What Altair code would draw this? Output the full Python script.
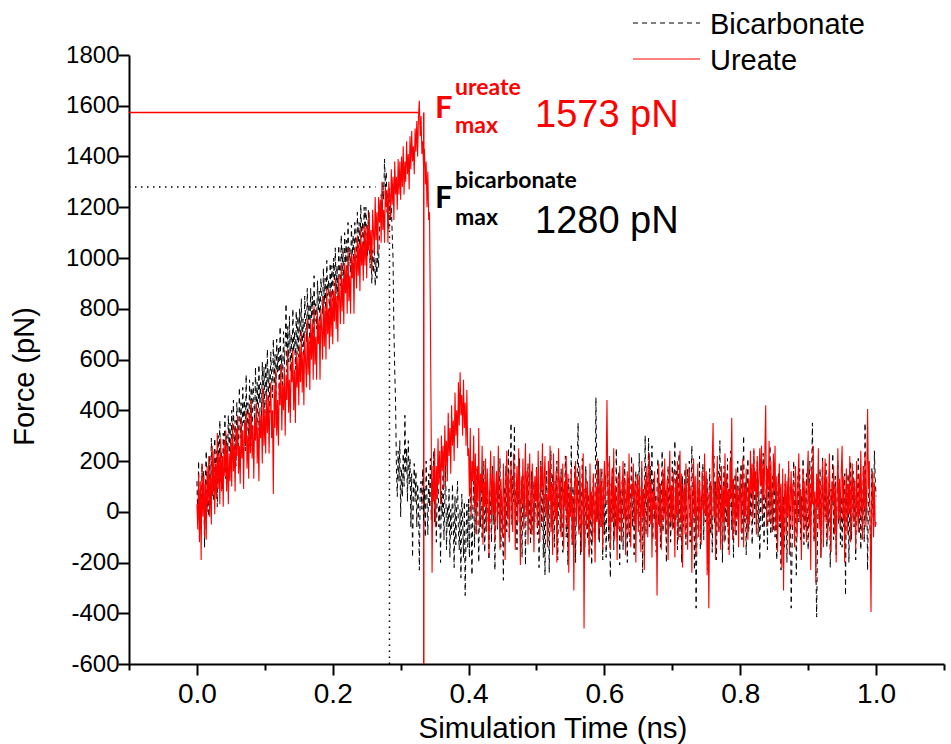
import altair as alt
import pandas as pd

# Sampling grid of the steered-MD force traces (ns)
STEP_NS = 0.00125

# Ureate: loading ramp 0.0-0.3 ns
ureate_ramp = [
    30, -70, 150, -120, 120, -190, 190, -20, 140, -100, 110, -110, 180, 30, 220, -20, 140, -50, 260, 70,
    240, -10, 190, 50, 310, 90, 230, 30, 290, 80, 220, 20, 280, 140, 320, 80, 260, 30, 230, 120,
    290, 100, 350, 160, 260, 80, 330, 220, 380, 150, 260, 110, 370, 210, 320, 90, 350, 270, 400, 170,
    300, 130, 390, 230, 440, 210, 340, 130, 370, 280, 430, 190, 330, 120, 410, 290, 380, 190, 490, 260,
    400, 230, 470, 310, 450, 230, 410, 510, 290, 400, 70, 500, 330, 560, 300, 440, 260, 510, 420, 580,
    320, 500, 400, 570, 300, 540, 440, 640, 390, 520, 350, 590, 510, 640, 400, 560, 350, 630, 490, 610,
    420, 650, 510, 710, 470, 630, 420, 700, 590, 490, 760, 540, 690, 480, 760, 600, 740, 520, 810, 580,
    690, 520, 790, 660, 760, 520, 800, 720, 600, 850, 650, 810, 600, 880, 700, 800, 640, 880, 690, 870,
    660, 870, 750, 920, 720, 850, 670, 930, 840, 740, 980, 790, 920, 740, 980, 860, 970, 780, 1040, 830,
    930, 780, 1020, 920, 1010, 780, 1040, 990, 880, 1090, 930, 1060, 870, 1120, 970, 1060, 910, 1130, 970, 1120,
    920, 1130, 1030, 1180, 1000, 1110, 950, 1190, 1100, 1020, 1240, 1070, 1180, 1020, 1240, 1140, 1230, 1060, 1300, 1110,
    1190, 1060, 1280, 1200, 1270, 1060, 1300, 1250, 1160, 1350, 1210, 1320, 1150, 1380, 1250, 1320, 1190, 1390, 1250, 1380,
]
# Ureate: peak, rupture and rebound 0.3-0.4 ns
ureate_rupture = [
    1230, 1400, 1280, 1440, 1250, 1380, 1300, 1460, 1330, 1410, 1270, 1480, 1350, 1500, 1380, 1440, 1330, 1510, 1420, 1540,
    1400, 1560, 1620, 1480, 1560, 1410, 1460, 1360, 1430, 1290, 1380, 1200, 1340, 1150, 1180, 760, 300, -240, 180, 40,
    250, -60, 180, 50, 290, 110, 240, 30, 300, 160, 260, 90, 340, 180, 280, 120, 390, 220, 330, 150,
    420, 260, 360, 200, 470, 300, 400, 250, 510, 340, 550, 380, 460, 300, 520, 330, 430, 260, 480, 220,
]
# Ureate: post-rupture fluctuations 0.4-1.0 ns
ureate_tail = [
    250, 60, 330, -20, 200, 120, 300, 10, 230, -90, 180, 40, 330, -60, 150, 80, 260, -130, 120, 20,
    210, -80, 170, 60, -170, 100, 240, -40, 150, -10, 220, -120, 90, 160, -60, 260, 30, -150, 130, 40,
    -100, 190, 60, -190, 110, 240, -30, 150, -120, 70, 200, 10, -80, 230, 120, -150, 60, 180, -40, 250,
    90, -210, 140, 30, 210, -70, 110, 270, -20, 160, -130, 80, 230, 0, -90, 190, 60, -160, 140, 40,
    170, -60, 240, 20, -120, 180, 90, 270, -40, 130, 220, -10, 70, -140, 200, 40, 260, -80, 110, -170,
    230, 50, -30, 160, -200, 90, 250, 10, 140, -100, 60, 190, -150, 120, 20, 220, -60, 150, -240, 80,
    -20, 170, -120, 60, -310, 110, 200, -50, 140, 20, -90, 180, 40, -160, 90, 230, -460, 50, 160, -70,
    120, 10, -180, 190, -30, 80, -120, 150, 30, -200, 100, -40, 210, -110, 60, 170, -60, 120, -150, 90,
    200, 30, 150, 440, 90, -60, 220, -150, 60, 170, -40, 250, -110, 100, 20, -190, 140, -70, 180, 40,
    -120, 90, 200, -30, 130, -170, 50, 160, -90, 230, 10, -140, 110, 60, 190, -50, 120, -200, 70, 150,
    -80, 140, 30, -160, 200, -20, 90, -230, 130, 50, 180, -100, 60, 230, -50, 120, -180, 80, 10, 160,
    -110, 40, -330, 70, 190, -60, 110, -150, 20, 170, -30, 210, -90, 60, 130, -190, 90, 240, -40, 100,
    -70, 160, 20, -180, 130, -10, 200, -110, 80, 240, -40, 150, -220, 60, 110, -90, 190, 30, -150, 100,
    170, -60, 90, -240, 50, 210, -20, 140, -170, 70, 190, -100, 120, 10, -130, 160, 60, -50, 230, -10,
    160, -250, 80, -380, 40, 120, -70, 190, 350, -20, 110, -190, 60, 220, -80, 140, 30, -150, 180, -40,
    100, -120, 230, 20, 150, -60, 90, -170, 200, 50, 370, -110, 130, 10, -80, 170, -30, 90, -140, 60,
    150, -80, 60, 210, -140, 100, -20, 170, 30, -110, 130, -50, 240, 70, 190, -30, 250, 80, 160, -90,
    220, 60, 130, 250, 100, 260, -10, 190, 50, 240, 420, -60, 170, 90, 280, -40, 200, 30, -80, 230,
    80, 260, -70, 140, -160, 60, 190, -40, 110, -220, 170, -310, 40, 150, -90, 120, -20, 200, -170, 70,
    160, -60, 110, 20, -140, 180, 50, -100, 130, 230, -30, 90, -190, 60, 170, -70, 120, 0, -120, 150,
    240, -60, 110, -230, 170, 30, 260, -100, 80, -280, 150, 20, 250, -70, 120, -180, 60, 200, -140, 90,
    210, -40, 140, -110, 60, 230, 0, -160, 120, 40, 180, -90, 100, -200, 70, 250, -30, 130, -60, 160,
    260, -30, 140, -200, 50, 170, -90, 110, -10, 220, -120, 80, 190, -40, 130, 60, -150, 200, 20, -80,
    150, -20, 240, 40, -110, 180, 10, 230, -60, 120, 405, 90, 200, -50, -395, 60, 160, -100, 110, -60,
    -40,
]

# Bicarbonate: loading ramp and rupture near 0.29 ns
bicarbonate_ramp = [
    120, -30, 200, -110, 90, -70, 190, 40, 160, -140, 140, 240, 0, 120, -20, 220, 80, 290, 60, 170,
    40, 290, 150, 240, 20, 300, 130, 360, 120, 240, 90, 310, 220, 380, 130, 300, 190, 380, 230, 350,
    180, 400, 260, 440, 220, 360, 180, 430, 340, 260, 490, 290, 430, 230, 490, 350, 440, 240, 540, 320,
    430, 280, 520, 370, 490, 260, 510, 450, 340, 570, 390, 510, 320, 580, 430, 510, 360, 590, 420, 570,
    390, 590, 470, 640, 430, 560, 390, 630, 530, 450, 680, 500, 620, 450, 680, 550, 650, 460, 730, 530,
    620, 500, 710, 580, 660, 820, 550, 730, 590, 770, 550, 700, 520, 800, 630, 710, 560, 790, 620, 770,
    610, 800, 670, 840, 650, 760, 610, 850, 750, 670, 880, 720, 820, 660, 880, 760, 850, 680, 930, 750,
    820, 720, 910, 790, 870, 710, 920, 860, 780, 960, 820, 920, 760, 990, 850, 910, 790, 980, 840, 970,
    830, 1000, 890, 1040, 860, 970, 830, 1050, 950, 890, 1090, 930, 1040, 880, 1100, 980, 1070, 890, 1140, 970,
    1040, 940, 1130, 1010, 1090, 930, 1140, 1070, 1000, 1180, 1040, 1140, 990, 1210, 1080, 1140, 1020, 1200, 1080, 1200,
    1130, 1010, 1190, 1050, 960, 1080, 900, 1030, 940, 1060, 890, 1000, 920, 1040, 960, 1110, 1180, 1250, 1160, 1300,
    1230, 1390, 1280, 1340, 1180, 1260, 1110, 1230, 1150, 1200, 1100, 1000, 720, 560, 430, 180, 60, 240, 120, 280,
]
# Bicarbonate: just after rupture 0.3-0.4 ns
bicarbonate_rupture = [
    -20, 170, 60, 230, 100, 380, 150, 250, 40, 280, 110, 210, -60, 150, -180, 70, 190, 40, 160, -60,
    110, 30, -230, 80, 120, 10, 170, -40, 90, -100, 200, 50, -90, 150, 20, 210, -30, 130, 60, 240,
    -40, 110, -120, 60, 140, -60, 30, -200, 80, -20, 150, -110, 40, 190, -150, 20, -60, 90, -180, 10,
    -90, 110, -40, -220, 60, -130, 30, 120, -70, -150, 10, -260, 70, -30, -180, 40, -330, -90, 30, -140,
]
# Bicarbonate: post-rupture fluctuations 0.4-1.0 ns
bicarbonate_tail = [
    50, -180, 100, -40, -250, 20, 120, -140, 70, -90, 170, -20, -200, 80, -60, 150, -110, 30, 200, -160,
    60, -80, 130, -30, -190, 90, 10, -120, 180, -50, 110, -230, 40, 150, -70, 80, -10, 210, -140, 60,
    -20, -270, 100, -60, 180, -80, 60, 250, -110, 130, 350, -50, 140, 40, 340, -30, 90, -150, 120, 30,
    210, -100, 60, -180, 150, -20, 80, -210, 110, 20, 190, -70, 50, -130, 160, 0, -90, 120, -40, 70,
    180, -90, 110, -220, 40, 200, -60, 130, -180, 70, -250, 20, 160, -110, 60, -240, 90, 240, -60, 150,
    10, -140, 120, -30, 200, -190, 50, 110, -80, 170, -20, -160, 90, 30, 220, -100, 60, -210, 130, 0,
    10, 260, -130, 100, -50, 180, -200, 50, 160, 350, -80, 120, -170, 30, 210, -60, 90, -140, 180, 40,
    -110, 70, -170, -140, 80, -210, 40, 150, -90, 20, 450, 120, -30, 200, -120, 60, -60, 170, -190, 90,
    -90, 150, -180, 60, 200, -120, 40, -260, 110, -40, 180, -150, 70, -60, 250, -100, 20, 160, -210, 90,
    -30, 130, -150, 50, 190, -80, 10, -200, 140, 30, -120, 80, 220, -60, 110, -170, 40, 160, -20, 90,
    -30, 230, -120, 50, 170, -240, 80, -20, 300, -90, 140, 20, 290, -60, 180, 40, 260, -110, 130, -30,
    70, -160, 100, 210, -50, 120, -140, 30, 240, -80, 150, -10, 90, -200, 60, 180, -70, 110, -120, 40,
    200, -70, 120, 280, -40, 160, -150, 90, 230, -100, 60, -200, 140, -60, 30, 170, -130, 80, 170, 50,
    200, -120, 90, 260, -30, 130, -230, 40, -380, -90, 100, -60, 220, -150, 70, 10, 190, -110, 140, -40,
    -30, 130, -230, 40, 170, -90, 100, -160, 30, 220, -50, 120, -190, 60, 160, -80, 280, -30, 110, -200,
    50, 180, -120, 70, -40, 210, -150, 90, 20, 240, -70, 130, -180, 40, 150, -100, 60, 200, -20, 100,
    40, 190, -110, 80, 300, -40, 120, -170, 50, 210, -80, 90, -20, 170, -130, 60, 240, -50, 130, 20,
    200, -100, 80, -190, 40, 150, -60, 230, -120, 70, 10, 180, -150, 100, -40, 260, -90, 60, 140, -70,
    200, -100, 80, -190, 40, 150, -60, 100, -230, -20, -130, 60, -140, 110, 20, -200, 70, 180, -90, 30,
    -380, -160, 50, 200, -70, 90, -250, 10, 140, -40, 170, -110, 60, -20, 210, -130, 80, -60, 150, 0,
    -150, 80, 200, -60, 120, 350, 40, -120, 60, -200, -415, -100, 130, -30, 170, -180, 50, 220, -90, 120,
    -20, 190, -140, 60, -60, 160, -220, 90, 10, 230, -110, 70, 140, -170, 40, 200, -50, 100, -130, 60,
    -140, 60, -60, 150, -330, 90, -40, 150, -200, 70, 200, -110, 40, 160, -60, 120, -190, 80, 30, 210,
    -90, 130, -150, 50, -20, 180, -120, 350, -30, 90, -230, 60, 90, -80, -120, 170, 20, -60, 240, 130,
    60,
]

# Rupture forces and the guide lines that mark them
SERIES = ["Bicarbonate", "Ureate"]
UREATE_FMAX = 1573
BICARB_FMAX = 1280
UREATE_GUIDE_END = 0.326
UREATE_RUPTURE_T = 0.334
BICARB_GUIDE_END = 0.263
BICARB_RUPTURE_T = 0.2835
T_MIN, T_MAX = -0.1, 1.1
F_MIN, F_MAX = -600, 1800

ureate = ureate_ramp + ureate_rupture + ureate_tail
bicarbonate = bicarbonate_ramp + bicarbonate_rupture + bicarbonate_tail


def trace(values, name):
    return pd.DataFrame({
        "time": [round(i * STEP_NS, 5) for i in range(len(values))],
        "force": values,
        "series": name,
    })


bicarb_df = trace(bicarbonate, "Bicarbonate")
ureate_df = trace(ureate, "Ureate")

FONT = "Liberation Sans"
LABEL_FONT = "Lato"
RED = "#ff0000"
BICARB_DASH = [5, 4]

x_ticks = [round(T_MIN + 0.1 * i, 1) for i in range(13)]
y_ticks = list(range(F_MIN, F_MAX + 1, 100))

x_axis = alt.Axis(
    values=x_ticks,
    labelExpr="round(datum.value * 10) % 2 === 0 ? format(datum.value, '.1f') : ''",
    tickSize={"condition": {"test": "round(datum.value * 10) % 2 === 0", "value": 11}, "value": 6},
    labelFontSize=28, labelPadding=5, labelFlush=False, labelOverlap=False,
    title="Simulation Time (ns)", titleFontSize=29.5, titleX=423.5, titleY=73,
    titleAlign="center", titleBaseline="alphabetic",
)
y_axis = alt.Axis(
    values=y_ticks,
    labelExpr="datum.value % 200 === 0 ? '' + datum.value : ''",
    tickSize={"condition": {"test": "datum.value % 200 === 0", "value": 11}, "value": 6},
    labelFontSize=24, labelPadding=-1, labelFlush=False, labelOverlap=False,
    title="Force (pN)", titleFontSize=29, titleX=-96, titleY=321,
    titleAlign="center", titleBaseline="alphabetic", titleAngle=270,
)

x_enc = alt.X("time:Q", scale=alt.Scale(domain=[T_MIN, T_MAX], nice=False, zero=False), axis=x_axis)
y_enc = alt.Y("force:Q", scale=alt.Scale(domain=[F_MIN, F_MAX], nice=False, zero=False), axis=y_axis)

black_line = alt.Chart(bicarb_df).mark_line(
    strokeWidth=1, clip=True, color="black", strokeDash=BICARB_DASH
).encode(x=x_enc, y=y_enc, order="time:Q")
red_line = alt.Chart(ureate_df).mark_line(strokeWidth=1.1, clip=True, color=RED).encode(
    x="time:Q", y="force:Q", order="time:Q"
)

# Guide lines: level of the rupture force and the moment of rupture
guides_df = pd.DataFrame({
    "x": [T_MIN, UREATE_RUPTURE_T, T_MIN, BICARB_RUPTURE_T],
    "x2": [UREATE_GUIDE_END, UREATE_RUPTURE_T, BICARB_GUIDE_END, BICARB_RUPTURE_T],
    "y": [UREATE_FMAX, F_MIN, BICARB_FMAX, F_MIN],
    "y2": [UREATE_FMAX, UREATE_FMAX, BICARB_FMAX, BICARB_FMAX],
    "series": ["Ureate", "Ureate", "Bicarbonate", "Bicarbonate"],
})
red_guides = alt.Chart(guides_df).transform_filter(alt.datum.series == "Ureate").mark_rule(
    color=RED, strokeWidth=1.5
).encode(x="x:Q", x2="x2:Q", y="y:Q", y2="y2:Q")
black_guides = alt.Chart(guides_df).transform_filter(alt.datum.series == "Bicarbonate").mark_rule(
    color="black", strokeWidth=1.5, strokeDash=[1.5, 4.5]
).encode(x="x:Q", x2="x2:Q", y="y:Q", y2="y2:Q")


def label(text, x, y, size, color, bold=False, font=FONT):
    return alt.Chart(pd.DataFrame({"text": [text]})).mark_text(
        align="left", baseline="alphabetic", font=font, fontSize=size,
        fontWeight="bold" if bold else "normal", color=color,
    ).encode(x=alt.value(x), y=alt.value(y), text="text:N")


def legend_entry(name, y, color, dash):
    key = alt.Chart(pd.DataFrame({"series": [name]})).mark_rule(
        color=color, strokeWidth=1, strokeDash=dash
    ).encode(x=alt.value(504), x2=alt.value(571), y=alt.value(y))
    return [key, label(name, 581, y + 10.5, 29, "black")]


legend_layers = legend_entry(SERIES[0], -32, "black", BICARB_DASH) + legend_entry(SERIES[1], 4, RED, [1, 0])

annotations = [
    label("F", 306, 63, 31, RED, True, LABEL_FONT),
    label("ureate", 326, 40, 23, RED, True, LABEL_FONT),
    label("max", 326, 78, 23, RED, True, LABEL_FONT),
    label(f"{UREATE_FMAX} pN", 406, 72, 38, RED),
    label("F", 306, 153, 31, "black", True, LABEL_FONT),
    label("bicarbonate", 326, 133, 23, "black", True, LABEL_FONT),
    label("max", 326, 170, 23, "black", True, LABEL_FONT),
    label(f"{BICARB_FMAX} pN", 406, 178, 38, "black"),
]

chart = alt.layer(
    black_guides, red_guides, black_line, red_line, *legend_layers, *annotations
).properties(
    width=815, height=609,
    padding={"left": 129, "top": 55, "right": 7, "bottom": 80},
    autosize=alt.AutoSizeParams(type="none"),
    background="white",
).configure_view(stroke=None).configure_axis(
    domainColor="black", domainWidth=2, tickColor="black", tickWidth=2,
    labelColor="black", titleColor="black", grid=False,
    labelFont=FONT, titleFont=FONT, titleFontWeight="normal",
)

chart.save("out.html", embed_options={"renderer": "svg", "actions": False})
